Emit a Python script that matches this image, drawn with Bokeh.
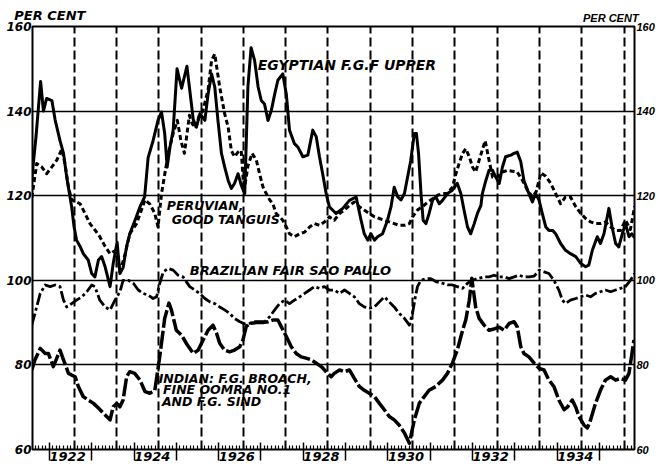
from bokeh.plotting import figure
from bokeh.models import ColumnDataSource, FixedTicker, LinearAxis, Range1d, Grid
from bokeh.core.properties import value
from bokeh.embed import file_html
from bokeh.resources import INLINE

# time axis: months counted from August 1921
START_YEAR = 1921 + 7 / 12
X_MIN, X_MAX = 1921.60, 1935.83

# ---- data (per cent), x = months since Aug 1921 ----
egy_m = [0, 1.2, 2.5, 3.3, 4.2, 5.7, 6.6, 8, 9, 9.9, 11.3, 12, 12.7, 13.7, 14.6, 16, 17, 17.9, 18.9, 19.8,
         20.8, 22.2, 23.1, 24.2, 25, 25.9, 26.9, 27.8, 29.2, 30.7, 32, 33, 34.4, 35.8, 36.8, 37.7, 38.4, 39.2,
         40.1, 41.2, 42.5, 44, 45.8, 46.7, 47.7, 49.1, 50, 51, 51.9, 52.8, 53.8, 54.7, 55.7, 56.6, 57.5, 58.5,
         59.4, 60.4, 61.3, 62.2, 63.2, 64.2, 65.1, 66, 67, 67.9, 68.9, 69.8, 71.2, 72.2, 73.1, 74.5, 75.5,
         76.9, 78.3, 79.7, 80.7, 81.6, 82.5, 83.5, 84.4, 86.3, 88.2, 90.1, 92, 93.4, 94.3, 95.3, 96.2, 97.2,
         98.1, 99.5, 100.9, 101.9, 102.8, 103.8, 104.7, 105.7, 106.6, 107.5, 108.5, 109.1, 109.7, 110.4, 111,
         111.8, 112.7, 113.7, 114.6, 115.6, 116.5, 117.9, 119.3, 120.7, 121.7, 122.6, 123.6, 124.5, 125.5,
         126.4, 127.4, 127.8, 128.8, 129.7, 130.7, 131.6, 132.6, 133.5, 134.4, 135.9, 136.8, 137.7, 138.7,
         139.6, 141, 142, 142.9, 143.9, 144.8, 145.8, 146.7, 147.7, 148.6, 150, 151.4, 152.8, 154.3, 155.7,
         157.1, 158, 159, 160.4, 161.3, 162.3, 163.7, 164.6, 165.6, 166.5, 167.5, 168.4, 169.4, 170.2, 171]
egy_v = [124, 134, 147, 140, 143, 142.5, 138, 133, 130, 124.4, 117.4, 112.6, 109.5, 108, 106.3, 104.8, 101.6,
         100.8, 104.8, 105.6, 103.2, 98.5, 104, 109, 101.6, 103, 108, 111, 114, 117.4, 119.7, 129, 133, 137.8,
         139.8, 134.7, 126.8, 131.5, 135.5, 150, 145.4, 150.6, 138, 136.2, 139.4, 137.8, 144, 148.8, 145.7,
         137.8, 130, 126.8, 123.6, 121.7, 122.9, 125.2, 122.5, 120.5, 145.7, 155, 152, 145.7, 142.5, 141.7,
         137.8, 140, 144, 147.3, 148.8, 144, 135.5, 132.3, 131.5, 129.2, 129.6, 135.5, 133.9, 129.2, 125.2,
         120.5, 117.4, 115.8, 117, 118.9, 119.7, 114.2, 111, 109.5, 111, 109.5, 110.3, 111, 114.2, 117.4, 122,
         119.7, 119, 120.5, 124.4, 128.4, 134.7, 134.7, 130, 120.5, 114.2, 113.4, 115.8, 119, 119.7, 118.1,
         118.9, 120.5, 121.3, 122.9, 120.5, 116.6, 112.6, 111, 113.4, 115.8, 117.7, 120.5, 123.6, 126, 126,
         124.4, 122.9, 126.8, 129.2, 129.6, 130, 130.3, 128, 123.6, 120.5, 118.5, 120.5, 118.9, 115.8, 112.6,
         111.8, 111.8, 111, 108.7, 107.1, 106.3, 105.6, 104, 103.2, 103.6, 107.1, 110.3, 108.7, 111, 117,
         112.6, 108.7, 107.9, 111, 113.4, 110.3, 111, 110]

per_m = [0, 1.4, 2.8, 4.2, 5.7, 7.1, 8.5, 9.4, 10.4, 11.3, 12.7, 13.7, 15.1, 16.5, 17.9, 19.3, 20.8, 22.2,
         23.6, 24.5, 25, 26.4, 27.8, 29.7, 31.1, 32.1, 33.5, 34.9, 35.8, 36.8, 37.7, 38.7, 40.1, 41.3, 42.3,
         43.3, 44.7, 45.5, 46.5, 47.5, 48.5, 50, 51, 51.9, 53.3, 54.7, 55.7, 56.6, 57.5, 58.5, 59.4, 60.2,
         61.3, 62.5, 63.7, 64.6, 65.6, 66.5, 67.5, 68.4, 69.3, 70.3, 71.2, 72.2, 73.1, 74.5, 76, 77.4, 78.8,
         80.2, 81.6, 83, 84.4, 85.8, 87.3, 88.7, 90.1, 91.5, 92.9, 94.3, 95.7, 97.2, 98.6, 100, 101.4, 102.8,
         104.2, 105.7, 107.1, 108, 109.4, 110.8, 112.3, 113.7, 115.1, 116.5, 117.9, 119.3, 120.3, 121.2,
         122.2, 123.1, 124.1, 125, 125.9, 126.9, 128.6, 129.7, 130.7, 132.1, 133.5, 134.9, 136.3, 137.7,
         139.2, 140.6, 142, 143.1, 144.4, 145.8, 147.2, 148.6, 150, 151.4, 152.8, 154.3, 155.7, 157.1, 158.5,
         159.9, 161.3, 162.7, 164.2, 165.6, 167, 168.4, 169.8, 171]
per_v = [119.5, 127.6, 126.8, 125.2, 126.8, 128.4, 131, 127.6, 122, 119, 118.5, 118.1, 115.8, 113.4, 111.9,
         110.3, 108, 106.3, 107, 104.8, 102, 106, 111, 113.4, 116.6, 119, 118, 115.8, 112.6, 120.5, 125, 130,
         134.7, 137.8, 133, 130, 139, 137, 136, 139, 140, 145, 152, 153.5, 145.7, 139.4, 136.2, 130.7, 129.2,
         130.3, 130.7, 121, 127, 130, 128.4, 125.2, 122, 120.5, 119, 118.1, 115.8, 115, 114.2, 112.6, 111,
         110.3, 111, 111.4, 112.6, 113.4, 113, 113.8, 115, 114.2, 115.8, 116.6, 117.7, 118.5, 117.4, 116.6,
         115.8, 115, 114.6, 114.2, 113.8, 113.4, 113, 113, 113.4, 115, 116.6, 117.4, 118.5, 119.3, 120.1,
         120.5, 120.5, 122, 125.2, 127.6, 130, 131.1, 129.2, 126.8, 125.6, 128.4, 133, 128.4, 124.4, 124.4,
         125.6, 126, 125.8, 125.6, 123.6, 121.3, 119.7, 121, 125.4, 124.6, 122.9, 120.5, 118.1, 119.7, 119.7,
         117.4, 115.8, 114.6, 113.8, 113.4, 113.4, 113.8, 112.6, 111.8, 111.8, 114.2, 112, 117.5]

bra_m = [0, 0.9, 2.4, 3.8, 5.2, 6.6, 8, 9, 9.9, 11.3, 12.7, 14.2, 15.6, 17, 17.9, 19.3, 20.8, 22.2, 23.6,
         25, 25.9, 27.4, 28.8, 30.2, 31.6, 33, 34.4, 35.4, 36.3, 37.3, 38.7, 40.1, 41.5, 42.9, 44.8, 46.2,
         47.6, 49.1, 50.5, 51.9, 53.3, 54.7, 56.1, 57.5, 59, 60.4, 61.8, 63.2, 64.6, 66, 67.5, 68.9, 70.3,
         71.7, 73.1, 74.5, 76, 77.4, 78.8, 80.2, 81.6, 83, 84.4, 85.8, 87.3, 88.7, 90.1, 91.5, 92.9, 94.3,
         95.7, 97.2, 98.6, 100, 101.4, 102.8, 104.2, 105.7, 107.1, 108, 108.8, 109.4, 110.4, 111.8, 113.2,
         114.6, 116.5, 117.9, 119.3, 120.7, 122.2, 123.6, 125, 126.4, 128.3, 129.7, 131.1, 132.6, 134, 135.4,
         136.8, 138.2, 139.6, 141, 142.5, 143.9, 145.3, 146.7, 148.1, 149.5, 150.5, 151.4, 152.8, 154.3,
         155.7, 157.1, 158.5, 159.9, 161.3, 162.7, 164.2, 165.6, 167, 168.4, 169.8, 171]
bra_v = [89.4, 92.2, 96.9, 98.9, 98.5, 98.9, 98.5, 95.3, 93.7, 94.5, 95.3, 96.1, 97.3, 98.9, 98.5, 95.3,
         93.7, 93, 95.3, 97.3, 100, 100, 99.3, 97.7, 96.9, 96.5, 95.7, 96.1, 99.3, 102, 102.8, 102.4, 101.2,
         100.8, 98.5, 97.7, 96.9, 95.7, 94.9, 94.5, 93.7, 93, 92.2, 91, 90.2, 89.7, 89.8, 90.2, 90.2, 90.2,
         91.4, 93, 94.5, 95.3, 94.5, 95.3, 96.1, 96.9, 97.7, 98.5, 98.1, 98.5, 97.7, 97.7, 96.9, 97.7, 96.9,
         96.1, 94.5, 93.7, 93.4, 93.7, 94.9, 96.1, 94.9, 93.7, 92.2, 91, 89.4, 92.2, 96.1, 98.5, 100, 100.4,
         100.4, 99.7, 99.3, 98.9, 98.9, 98.5, 98.1, 99.3, 100, 100.4, 100.8, 100.8, 101.2, 100.8, 100.8,
         100.4, 100.8, 101.2, 100.8, 100.8, 101, 102.4, 102, 101.6, 100, 97.7, 95.3, 94.5, 95.3, 95.7, 96.1,
         96.5, 96.1, 96.9, 97.3, 97.7, 97.3, 97.7, 98.1, 98.5, 100, 101.6]

ind_m = [0, 0.9, 2.4, 3.8, 4.7, 6.1, 7.1, 8, 9, 10.4, 11.3, 12.3, 13.2, 14.6, 16, 17.5, 18.9, 20.3, 22.2,
         23.1, 24.1, 25, 25.9, 26.9, 27.8, 29.2, 30.7, 32.1, 33.5, 34.9, 36.3, 37.7, 38.9, 39.6, 41, 42.5,
         43.9, 45.8, 47.2, 48.6, 50, 51.4, 52.4, 53.3, 54.7, 56.1, 57.5, 59, 59.9, 60.8, 61.8, 63.7, 65.6, 67,
         68.4, 69.8, 70.8, 72.2, 73.6, 75, 76.4, 77.8, 79.2, 80.7, 82.1, 83.5, 84.9, 85.8, 87.3, 88.7, 90.1,
         91.5, 92.9, 94.3, 95.7, 97.2, 98.6, 100, 101.4, 102.8, 104.2, 105.7, 107.1, 108.5, 109.9, 111.3,
         112.7, 114.6, 116.5, 117.9, 119.3, 120.7, 122.2, 123.1, 124.1, 124.8, 125.9, 126.9, 128.3, 129.7,
         131.1, 132.6, 134, 135.4, 136.8, 137.7, 138.7, 139.6, 141, 142.5, 143.9, 145.3, 146.7, 148.1, 149.5,
         151, 151.9, 153.3, 154.3, 155.2, 156.6, 157.6, 158.5, 159.9, 161.3, 162.7, 164.2, 165.6, 167, 168.4,
         169.4, 170.1, 170.8]
ind_v = [78.8, 81.2, 83.9, 82.7, 82.7, 79.6, 81.6, 83.5, 81.2, 78, 77.6, 77.2, 74.9, 72.5, 71.7, 70.9, 69.8,
         68.6, 67, 70.1, 70.9, 70.1, 71.7, 77.2, 78.4, 78, 76.4, 73.7, 73.3, 74, 82, 91, 94.6, 93, 88.2, 87,
         85, 82.7, 83.5, 85.9, 88.2, 89.4, 87.5, 85.1, 83.5, 83.1, 83.5, 84.3, 85.9, 89, 89.8, 90, 90, 90.2,
         90.6, 90.6, 89, 86.7, 84.3, 82.7, 81.9, 81.6, 81.2, 80.4, 79.6, 78.4, 77.2, 78, 78.8, 78.4, 78.8,
         76.8, 74.9, 74, 73.3, 72.5, 70.9, 69.4, 67.8, 67, 65.8, 63.9, 61.5, 67, 70.9, 72.5, 74, 74.9, 76.4,
         78, 80.4, 83.5, 88.2, 90.6, 95.3, 100.5, 93.7, 91, 89.4, 88.2, 88.5, 88.9, 88.2, 89.8, 90.2, 89,
         84.3, 82.7, 81.9, 80.4, 79.2, 78.8, 76.4, 74.9, 71.7, 69.4, 70, 71.7, 70, 67.8, 65.8, 65.1, 67, 70.9,
         74, 76.4, 77.2, 76.4, 76.8, 76.4, 78, 81.9, 85.9]

# axis ticks / labels
y_ticks = [60, 80, 100, 120, 140, 160]
grid_values = [80, 100, 120, 140]
tick_years = list(range(1922, 1936))
label_years = [1922, 1924, 1926, 1928, 1930, 1932, 1934]
unit_text = "PER CENT"

# series annotations (text, month, value)
ann_text = ["EGYPTIAN F.G.F UPPER", "PERUVIAN,", "GOOD TANGUIS", "BRAZILIAN FAIR SAO PAULO",
            "INDIAN: F.G. BROACH,", "FINE OOMRA NO.1", "AND F.G. SIND"]
ann_m = [64.1, 38.3, 39.7, 44.8, 36.0, 37.2, 36.9]
ann_v = [151.0, 117.7, 114.4, 102.3, 76.7, 74.2, 71.4]
ann_size = ["14px", "12.5px", "12.5px", "13px", "12.5px", "12.5px", "12.5px"]


def to_year(ms):
    return [START_YEAR + m / 12 for m in ms]


FONT = "DejaVu Sans"

p = figure(width=659, height=466, x_range=Range1d(X_MIN, X_MAX), y_range=Range1d(60, 160),
           output_backend="svg", toolbar_location=None, x_axis_type=None, y_axis_type=None,
           min_border_left=32, min_border_right=25, min_border_top=26, min_border_bottom=17)
p.outline_line_color = "black"
p.outline_line_width = 2
p.background_fill_color = "white"
p.border_fill_color = "white"

# grids
hg = Grid(dimension=1, ticker=FixedTicker(ticks=grid_values), grid_line_color="black", grid_line_width=1.6)
vg = Grid(dimension=0, ticker=FixedTicker(ticks=[y + 7 / 12 for y in tick_years]),
          grid_line_color="black", grid_line_width=2, grid_line_dash="9 4")
p.add_layout(hg)
p.add_layout(vg)

# y axes
yl = LinearAxis(ticker=FixedTicker(ticks=y_ticks), major_tick_in=0, major_tick_out=0,
                minor_tick_in=0, minor_tick_out=0, axis_line_color=None, major_label_standoff=1,
                major_label_text_font=FONT, major_label_text_font_style="bold italic",
                major_label_text_font_size="12px", major_label_text_color="black")
yr = LinearAxis(ticker=FixedTicker(ticks=y_ticks), major_tick_in=0, major_tick_out=0,
                minor_tick_in=0, minor_tick_out=0, axis_line_color=None, major_label_standoff=2,
                major_label_text_font="Liberation Sans", major_label_text_font_style="bold italic",
                major_label_text_font_size="11px", major_label_text_color="black")
p.add_layout(yl, "left")
p.add_layout(yr, "right")

# x axis: year ticks + monthly minor ticks
months = [START_YEAR + k / 12 for k in range(1, 172)]
minor = [t for t in months if abs(t - round(t)) > 1e-6]
xa = LinearAxis(ticker=FixedTicker(ticks=[float(y) for y in tick_years], minor_ticks=minor),
                major_tick_in=7, major_tick_out=11, major_tick_line_width=1.5,
                minor_tick_in=4, minor_tick_out=0, minor_tick_line_width=1.2,
                axis_line_color=None, major_label_standoff=0, major_label_text_font_size="0px",
                major_label_overrides={float(y): "" for y in tick_years})
label_pos = [y + 0.43 for y in label_years]
xb = LinearAxis(ticker=FixedTicker(ticks=label_pos), major_tick_in=0, major_tick_out=0,
                minor_tick_in=0, minor_tick_out=0, axis_line_color=None, major_label_standoff=-9,
                major_label_overrides={pos: str(y) for pos, y in zip(label_pos, label_years)},
                major_label_text_font=FONT, major_label_text_font_style="bold italic",
                major_label_text_font_size="13px", major_label_text_color="black")
p.add_layout(xa, "below")
p.add_layout(xb, "below")

# "PER CENT" headings as label-only axes above the frame
t_right = X_MIN + 13.67
t_left = X_MIN + 0.41
top_r = LinearAxis(ticker=FixedTicker(ticks=[t_right]), major_tick_in=0, major_tick_out=0,
                   minor_tick_in=0, minor_tick_out=0, axis_line_color=None, major_label_standoff=3,
                   major_label_overrides={t_right: unit_text},
                   major_label_text_font="Liberation Sans", major_label_text_font_style="bold italic",
                   major_label_text_font_size="11px", major_label_text_color="black")
top_l = LinearAxis(ticker=FixedTicker(ticks=[t_left]), major_tick_in=0, major_tick_out=0,
                   minor_tick_in=0, minor_tick_out=0, axis_line_color=None, major_label_standoff=-14,
                   major_label_overrides={t_left: unit_text},
                   major_label_text_font=FONT, major_label_text_font_style="bold italic",
                   major_label_text_font_size="13px", major_label_text_color="black")
p.add_layout(top_r, "above")
p.add_layout(top_l, "above")

# series
p.line(to_year(egy_m), egy_v, line_color="black", line_width=3, line_join="round")
p.line(to_year(per_m), per_v, line_color="black", line_width=3, line_dash="5 3", line_join="round")
p.line(to_year(bra_m), bra_v, line_color="black", line_width=2.8, line_dash="12 3 3 3", line_join="round")
p.line(to_year(ind_m), ind_v, line_color="black", line_width=3.5, line_dash="18 3", line_join="round")

src = ColumnDataSource(dict(x=to_year(ann_m), y=ann_v, text=ann_text, size=ann_size))
p.text(x="x", y="y", text="text", source=src, text_font=value(FONT), text_font_style="bold italic",
       text_font_size="size", text_baseline="middle", text_align="left", text_color="black")

open("out.html", "w").write(file_html(p, INLINE))
